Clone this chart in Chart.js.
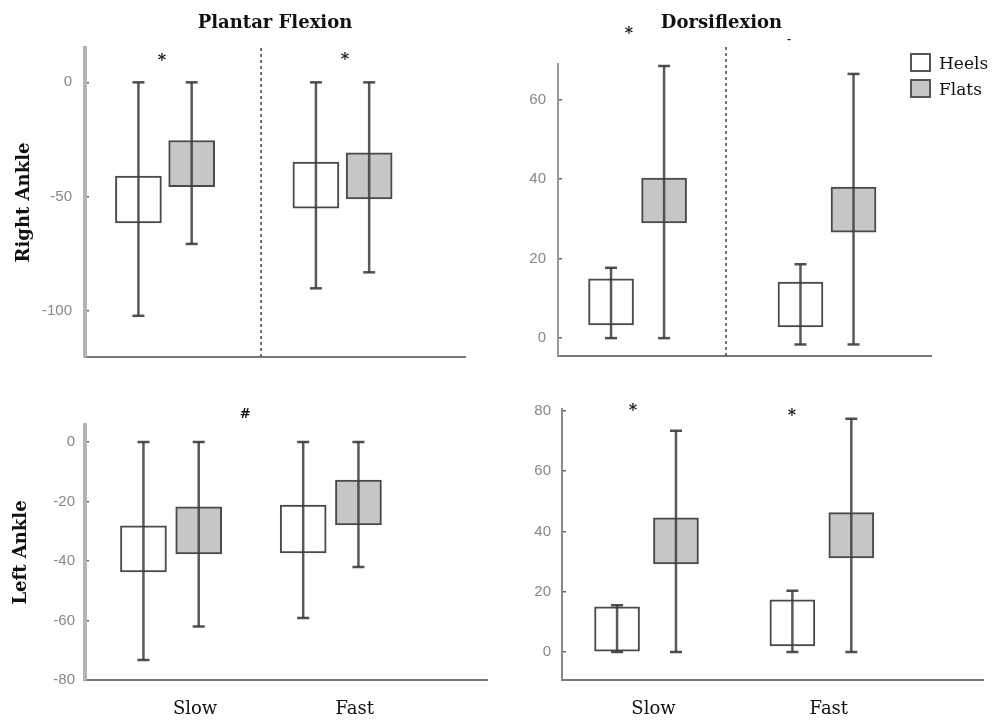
<!DOCTYPE html>
<html>
<head>
<meta charset="utf-8">
<script src="https://cdn.jsdelivr.net/npm/chart.js@4.4.1/dist/chart.umd.min.js"></script>
<style>
  body { margin: 0; background: #fff; }
  #wrap { position: relative; width: 992px; height: 720px; }
  canvas { position: absolute; }
  .legend { position: absolute; left: 910px; top: 53px; font: 17px 'DejaVu Serif', serif; color: #111; }
  .legend div { display: flex; align-items: center; height: 19px; margin-bottom: 7px; }
  .legend .box { width: 17px; height: 15px; border: 2px solid #555; margin-right: 8px; }
</style>
</head>
<body>
<div id="wrap">
  <canvas id="rightPlantar" width="496" height="370" style="left:0;top:0"></canvas>
  <canvas id="rightDorsi" width="496" height="370" style="left:496px;top:0"></canvas>
  <canvas id="leftPlantar" width="496" height="350" style="left:0;top:370px"></canvas>
  <canvas id="leftDorsi" width="496" height="350" style="left:496px;top:370px"></canvas>
  <div class="legend">
    <div><span class="box" style="background:#fff"></span>Heels</div>
    <div><span class="box" style="background:#c6c6c6"></span>Flats</div>
  </div>
</div>
<script>
const categories = ['Slow', 'Fast'];

// Right ankle, plantar flexion  ([low, high] per category)
const rpHeelsBox = [[-61.4, -41], [-55, -34.8]];
const rpHeelsRange = [[-102, 0], [-90, 0]];
const rpFlatsBox = [[-45.6, -25.4], [-50.9, -30.8]];
const rpFlatsRange = [[-70.6, 0], [-83, 0]];
const rpTicks = [0, -50, -100];

// Right ankle, dorsiflexion
const rdHeelsBox = [[3.3, 14.9], [2.8, 14.1]];
const rdHeelsRange = [[0, 17.7], [-1.6, 18.6]];
const rdFlatsBox = [[29, 40.3], [26.7, 38]];
const rdFlatsRange = [[0, 68.5], [-1.6, 66.5]];
const rdTicks = [0, 20, 40, 60];

// Left ankle, plantar flexion
const lpHeelsBox = [[-43.7, -28.2], [-37.3, -21.2]];
const lpHeelsRange = [[-73.3, 0], [-59.2, 0]];
const lpFlatsBox = [[-37.6, -21.8], [-27.9, -12.8]];
const lpFlatsRange = [[-62, 0], [-42, 0]];
const lpTicks = [0, -20, -40, -60, -80];

// Left ankle, dorsiflexion
const ldHeelsBox = [[0, 15], [2, 17.3]];
const ldHeelsRange = [[0, 15.5], [0, 20.3]];
const ldFlatsBox = [[29.2, 44.5], [31.2, 46.2]];
const ldFlatsRange = [[0, 73.4], [0, 77.4]];
const ldTicks = [0, 20, 40, 60, 80];

function boxData(boxes, shift) {
  return boxes.map((b, i) => ({ x: i + shift, y: b }));
}

function whiskerData(ranges, shift) {
  const pts = [];
  ranges.forEach((r, i) => {
    pts.push({ x: i + shift, y: r[0] }, { x: i + shift, y: r[1] }, { x: i + shift, y: null });
  });
  return pts;
}

// significance marks (*, #) placed in data units
const marksPlugin = {
  id: 'marks',
  afterDatasetsDraw(chart, args, opts) {
    if (!opts.items) return;
    const ctx = chart.ctx;
    ctx.save();
    ctx.fillStyle = '#111';
    ctx.textAlign = 'center';
    ctx.textBaseline = 'middle';
    opts.items.forEach(m => {
      ctx.font = 'bold ' + (m.size || 16) + 'px "DejaVu Serif"';
      ctx.fillText(m.text, chart.scales.x.getPixelForValue(m.x), chart.scales.y.getPixelForValue(m.y));
    });
    ctx.restore();
  }
};

const whiskerStyle = {
  type: 'line',
  borderColor: 'rgba(60,60,60,0.85)',
  borderWidth: 2.5,
  pointStyle: 'line',
  pointRadius: 6,
  pointBorderWidth: 2.5,
  pointBorderColor: 'rgba(60,60,60,0.9)',
  spanGaps: false,
  fill: false,
  order: 0
};

function makePanel(id, p) {
  const datasets = [
    Object.assign({ data: whiskerData(p.heelsRange, -p.shift) }, whiskerStyle),
    Object.assign({ data: whiskerData(p.flatsRange, p.shift) }, whiskerStyle),
    {
      type: 'bar', label: 'Heels', data: boxData(p.heelsBox, -p.shift),
      backgroundColor: '#ffffff', borderColor: '#4a4a4a', borderWidth: 2, borderSkipped: false,
      barThickness: p.barWidth, grouped: false, order: 1
    },
    {
      type: 'bar', label: 'Flats', data: boxData(p.flatsBox, p.shift),
      backgroundColor: '#c6c6c6', borderColor: '#4a4a4a', borderWidth: 2, borderSkipped: false,
      barThickness: p.barWidth, grouped: false, order: 1
    }
  ];
  if (p.divider !== undefined) {
    datasets.push({
      type: 'line', data: [{ x: p.divider, y: p.yMin }, { x: p.divider, y: p.dividerTop }],
      borderColor: '#444', borderWidth: 1.5, borderDash: [3, 3], pointRadius: 0, clip: false, order: 2
    });
  }

  new Chart(document.getElementById(id), {
    type: 'bar',
    data: { datasets },
    plugins: [marksPlugin],
    options: {
      responsive: false,
      animation: false,
      layout: { padding: p.padding },
      plugins: {
        legend: { display: false },
        tooltip: { enabled: false },
        title: p.title ? {
          display: true, text: p.title, fullSize: p.titleFull,
          font: { family: 'DejaVu Serif', size: 18, weight: 'bold' }, color: '#111',
          padding: p.titlePad
        } : { display: false },
        marks: { items: p.marks }
      },
      scales: {
        x: {
          type: 'linear', min: p.xMin, max: p.xMax, offset: false,
          afterBuildTicks: s => { s.ticks = categories.map((c, i) => ({ value: i })); },
          afterFit: s => { s.height = p.xHeight; },
          ticks: {
            display: !!p.xLabels, callback: v => categories[v], maxRotation: 0,
            font: { family: 'DejaVu Serif', size: 18 }, color: '#111', padding: 19,
            labelOffset: p.labelOffset || 0
          },
          grid: { display: false, drawTicks: false },
          border: { display: true, color: '#777', width: 2 }
        },
        y: {
          min: p.yMin, max: p.yMax,
          afterBuildTicks: s => { s.ticks = p.ticks.map(v => ({ value: v })); },
          afterFit: s => { s.width = p.yWidth; s.paddingTop = 0; s.paddingBottom = 0; },
          ticks: { font: { family: 'Liberation Sans', size: 15 }, color: '#888', padding: p.tickPad },
          grid: { drawOnChartArea: false, tickLength: -4, color: '#666', lineWidth: 1.5 },
          border: { display: true, color: p.yColor, width: p.yBorder },
          title: p.yTitle ? {
            display: true, text: p.yTitle,
            font: { family: 'DejaVu Serif', size: 18, weight: 'bold' }, color: '#111',
            padding: { top: p.yTitlePad, bottom: 0 }
          } : { display: false }
        }
      }
    }
  });
}

makePanel('rightPlantar', {
  heelsBox: rpHeelsBox, heelsRange: rpHeelsRange, flatsBox: rpFlatsBox, flatsRange: rpFlatsRange,
  ticks: rpTicks, yMin: -120, yMax: 15, xMin: -0.451, xMax: 1.690, shift: 0.15, barWidth: 46,
  divider: 0.541, dividerTop: 15,
  padding: { left: 0, right: 31, top: 0, bottom: 0 }, xHeight: 13, yWidth: 85, tickPad: 17,
  yColor: '#b4b4b4', yBorder: 4, yTitle: 'Right Ankle', yTitlePad: 14,
  title: 'Plantar Flexion', titleFull: false, titlePad: { top: 12.2, bottom: 14.2 },
  marks: [{ text: '*', x: -0.017, y: 9.6 }, { text: '*', x: 1.014, y: 10 }]
});

makePanel('rightDorsi', {
  heelsBox: rdHeelsBox, heelsRange: rdHeelsRange, flatsBox: rdFlatsBox, flatsRange: rdFlatsRange,
  ticks: rdTicks, yMin: -4.5, yMax: 69, xMin: -0.420, xMax: 1.549, shift: 0.14, barWidth: 45,
  divider: 0.467, dividerTop: 73.3,
  padding: { left: 16, right: 61, top: 0, bottom: 0 }, xHeight: 14, yWidth: 46, tickPad: 16,
  yColor: '#999', yBorder: 2,
  title: 'Dorsiflexion', titleFull: true, titlePad: { top: 12.2, bottom: 30.2 },
  marks: [{ text: '*', x: -0.045, y: 76.5 }, { text: '-', x: 0.8, y: 75.3, size: 10 }]
});

makePanel('leftPlantar', {
  heelsBox: lpHeelsBox, heelsRange: lpHeelsRange, flatsBox: lpFlatsBox, flatsRange: lpFlatsRange,
  ticks: lpTicks, yMin: -80, yMax: 5.7, xMin: -0.539, xMax: 1.981, shift: 0.173, barWidth: 46,
  padding: { left: 0, right: 4, top: 55, bottom: 0 }, xHeight: 40, yWidth: 85, tickPad: 14,
  yColor: '#b4b4b4', yBorder: 4, yTitle: 'Left Ankle', yTitlePad: 10.7,
  xLabels: true, labelOffset: 24,
  marks: [{ text: '#', x: 0.464, y: 9.1, size: 13 }]
});

makePanel('leftDorsi', {
  heelsBox: ldHeelsBox, heelsRange: ldHeelsRange, flatsBox: ldFlatsBox, flatsRange: ldFlatsRange,
  ticks: ldTicks, yMin: -9.3, yMax: 80.6, xMin: -0.482, xMax: 1.922, shift: 0.168, barWidth: 45,
  padding: { left: 0, right: 1, top: 39, bottom: 0 }, xHeight: 40, yWidth: 66, tickPad: 15,
  yColor: '#888', yBorder: 2,
  xLabels: true, labelOffset: 7,
  marks: [{ text: '*', x: -0.078, y: 80 }, { text: '*', x: 0.829, y: 78.3 }]
});
</script>
</body>
</html>
